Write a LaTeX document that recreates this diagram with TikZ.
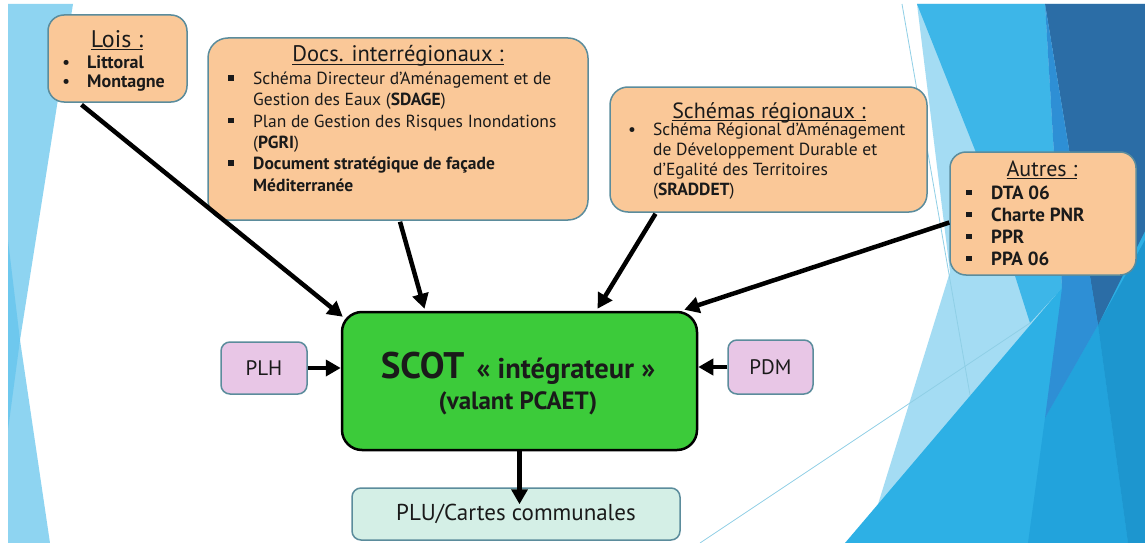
\documentclass[tikz,border=0pt]{standalone}
\usepackage{fontspec}
\setmainfont{PT Sans}
\usetikzlibrary{arrows.meta,calc}
\definecolor{peach}{HTML}{FAC898}
\definecolor{bline}{HTML}{5B8C9C}
\definecolor{lilac}{HTML}{E8C6E6}
\definecolor{sgreen}{HTML}{3CCB3A}
\definecolor{mint}{HTML}{D4EFE6}
\definecolor{pale}{HTML}{A4DCF3}
\definecolor{lblue}{HTML}{8ED4F1}
\definecolor{lbluetwo}{HTML}{6EC8EE}
\definecolor{mblue}{HTML}{3DB6E8}
\definecolor{dblue}{HTML}{2B6DA6}
\definecolor{mdblue}{HTML}{2E8FD5}
\definecolor{bblue}{HTML}{2DB0E5}
\definecolor{bbluetwo}{HTML}{22A3DC}
\definecolor{rblue}{HTML}{1D96CF}
\definecolor{thinl}{HTML}{8FCFE6}
\definecolor{txt}{HTML}{1A1A1A}
\newcommand{\sqb}{\makebox[25pt][l]{\raisebox{4pt}{\rule{5.5pt}{5.5pt}}}}
\newcommand{\rbul}{\makebox[25pt][l]{\textbullet}}
\newcommand{\indt}{\hspace*{25pt}}
\newcommand{\myul}[1]{\leavevmode\setbox0\hbox{#1}\rlap{\rule[-2.5pt]{\wd0}{1pt}}\box0}
\begin{document}
\begin{tikzpicture}[x=1pt,y=-1pt,
  pbox/.style={draw=bline, line width=1.5pt, fill=peach, rounded corners=16pt, inner sep=0pt},
  lbox/.style={draw=bline, line width=1.5pt, fill=lilac, rounded corners=9pt, inner sep=0pt, text=txt, font=\fontsize{21}{25}\selectfont},
  mbox/.style={draw=bline, line width=1.5pt, fill=mint, rounded corners=9pt, inner sep=0pt, text=txt, font=\fontsize{23}{27}\selectfont},
  sbox/.style={draw=black, line width=2.5pt, fill=sgreen, rounded corners=20pt, inner sep=0pt},
  ttl/.style={anchor=base, inner sep=0pt, text=txt},
  lst/.style={anchor=north west, inner sep=0pt, align=left, text=txt},
  arr/.style={line width=4.5pt, draw=black, -{Triangle[length=15pt,width=16pt]}},
  thin/.style={draw=thinl, line width=0.8pt}]
\useasboundingbox (0,0) rectangle (1145,543);
\fill[white] (0,0) rectangle (1145,543);
% left background facets
\fill[lblue] (8,4) -- (73,4) -- (20,340) -- (50,543) -- (8,543) -- cycle;
\fill[lbluetwo] (8,240) -- (20,340) -- (8,430) -- cycle;
% right background facets
\fill[pale] (917,4) -- (950,272) -- (866,543) -- (1145,543) -- (1145,4) -- cycle;
\fill[mblue] (917,4) -- (1045,4) -- (1062,288) -- (1030,323) -- (975,150) -- cycle;
\fill[bblue] (845,543) -- (1145,190) -- (1145,543) -- cycle;
\fill[bbluetwo] (1045,418) -- (1098,325) -- (1128,543) -- (1028,543) -- cycle;
\fill[rblue] (1098,325) -- (1145,240) -- (1145,543) -- (1128,543) -- cycle;
\fill[dblue] (1045,4) -- (1145,4) -- (1145,231) -- (1098,325) -- cycle;
\fill[mdblue] (1045,4) -- (1098,325) -- (1045,418) -- (1062,288) -- cycle;
\draw[thin] (902,4) -- (970,395);
\draw[thin] (700,543) -- (1030,323);

% boxes
\node[pbox, minimum width=139pt, minimum height=87pt] (lois) at (117.5,58.5) {};
\node[pbox, rounded corners=20pt, minimum width=380pt, minimum height=182pt] (docs) at (398,129) {};
\node[pbox, rounded corners=18pt, minimum width=317pt, minimum height=125pt] (sch) at (768.5,149.5) {};
\node[pbox, minimum width=186pt, minimum height=123pt] (aut) at (1043,213.5) {};
\node[sbox, minimum width=355pt, minimum height=138pt] (scot) at (519.5,381) {};
\node[lbox, minimum width=86pt, minimum height=52pt] (plh) at (264,368) {PLH};
\node[lbox, minimum width=85pt, minimum height=54pt] (pdm) at (770.5,367) {PDM};
\node[mbox, minimum width=328pt, minimum height=52pt] (plu) at (516,514) {PLU/Cartes communales};

% titles
\node[ttl, font=\fontsize{24}{28}\selectfont] (loist) at (117,48) {\myul{Lois :}};
\node[ttl, font=\fontsize{22.5}{26}\selectfont] (docst) at (398,62) {\myul{Docs. interrégionaux :}};
\node[ttl, font=\fontsize{22}{26}\selectfont] (scht) at (769,118) {\myul{Schémas régionaux :}};
\node[ttl, font=\fontsize{22}{26}\selectfont] (autt) at (1042,176) {\myul{Autres :}};

% lists
\node[lst, font=\fontsize{18}{19.5}\selectfont] (loisl) at (62,54.4)
  {\strut\rbul\textbf{Littoral}\\\rbul\textbf{Montagne}};
\node[lst, font=\fontsize{17.5}{21.3}\selectfont] (docsl) at (228,69.5)
  {\strut\sqb Schéma Directeur d’Aménagement et de\\
   \indt Gestion des Eaux (\textbf{SDAGE})\\
   \sqb Plan de Gestion des Risques Inondations\\
   \indt(\textbf{PGRI})\\
   \sqb\textbf{Document stratégique de façade}\\
   \indt\textbf{Méditerranée}};
\node[lst, font=\fontsize{17.5}{20}\selectfont] (schl) at (628,121)
  {\strut\rbul Schéma Régional d’Aménagement\\
   \indt de Développement Durable et\\
   \indt d’Egalité des Territoires\\
   \indt(\textbf{SRADDET})};
\node[lst, font=\fontsize{19}{22}\selectfont\bfseries] (autl) at (966,183.6)
  {\strut\sqb DTA 06\\\sqb Charte PNR\\\sqb PPR\\\sqb PPA 06};

% SCOT text
\node[ttl] (scotl) at (518,378) {\fontsize{37}{41}\selectfont\bfseries SCOT\hspace{3pt} \fontsize{28.5}{32}\selectfont « intégrateur »};
\node[ttl] (scotv) at (518,409) {\fontsize{25}{29}\selectfont\bfseries (valant PCAET)};

% connectors
\draw[arr] ($(lois.south)+(-36,2)$) -- ($(scot.north west)+(2,6)$);
\draw[arr] ($(docs.south)+(2,1)$) -- ($(scot.north)+(-95,-2)$);
\draw[arr] ($(sch.south)+(-113,1)$) -- ($(scot.north)+(78,-2)$);
\draw[arr] ($(aut.west)+(0,9)$) -- ($(scot.north east)+(-14,-1)$);
\draw[arr] (plh.east) -- (plh.east -| scot.west);
\draw[arr] (pdm.west) -- (pdm.west -| scot.east);
\coordinate (plutip) at ($(plu.north)+(0,17)$);
\draw[arr] (scot.south) -- (scot.south |- plutip);
\end{tikzpicture}
\end{document}
